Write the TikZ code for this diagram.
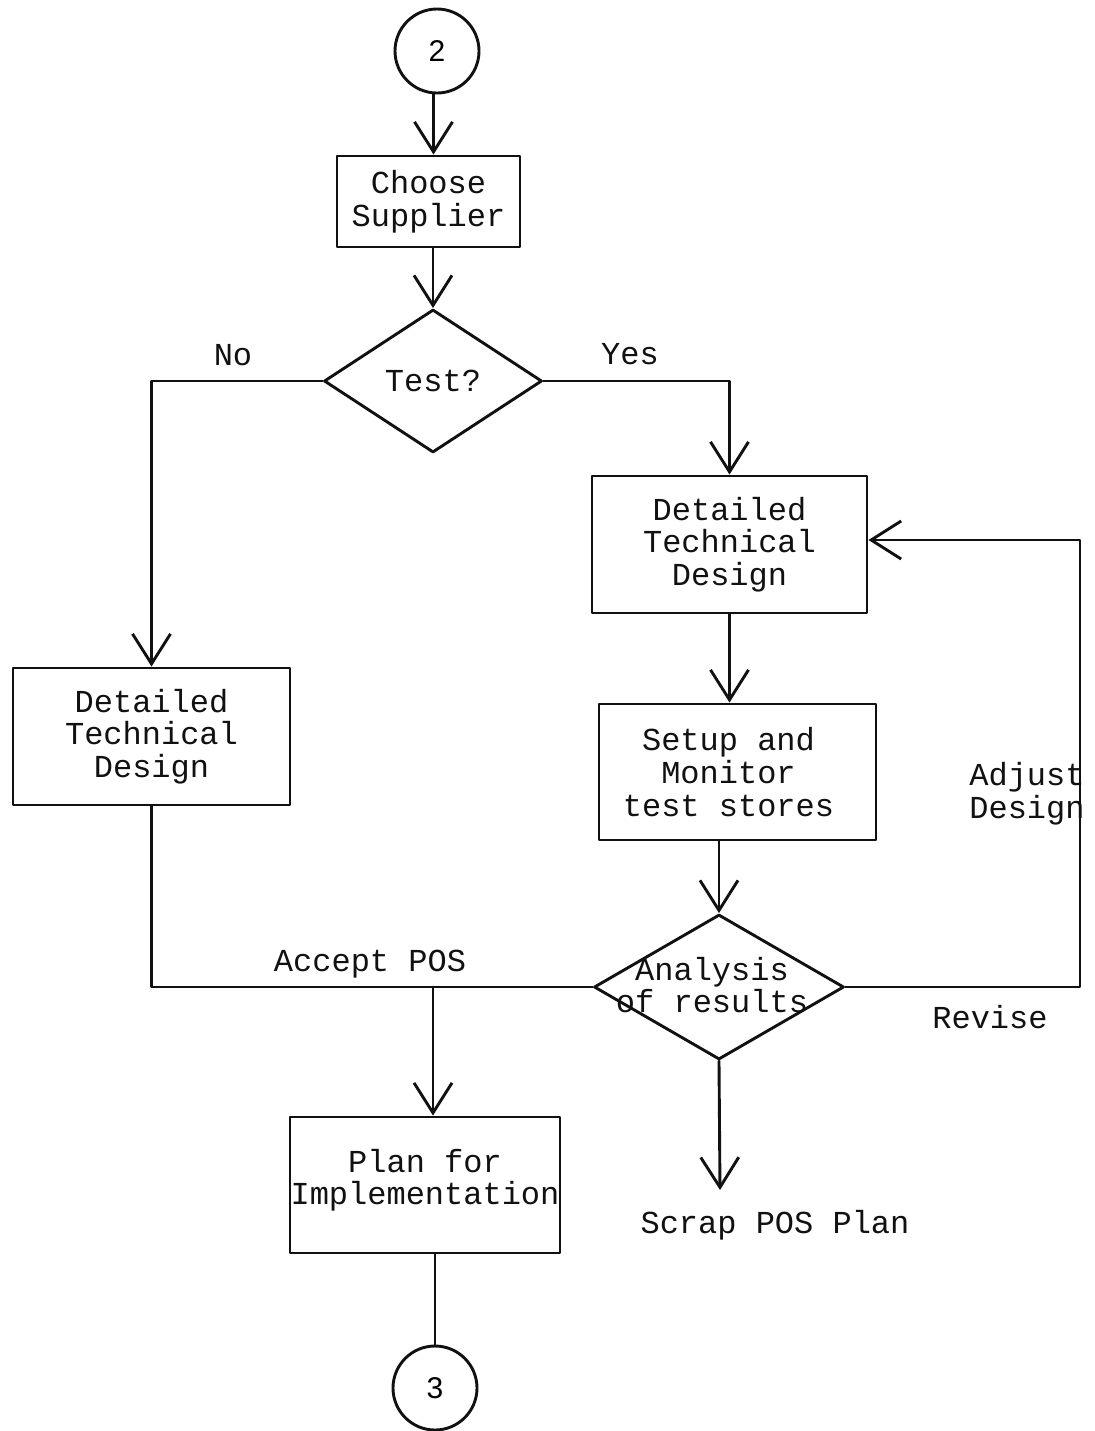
\documentclass[tikz,border=0pt]{standalone}
\usepackage{fontspec}
\usepackage{xcolor}
\usepackage{tikz}
\usetikzlibrary{arrows.meta,shapes.geometric}
\newfontfamily\typefont{Liberation Mono}
\newfontfamily\digitfont{Liberation Sans}
\definecolor{ink}{HTML}{111111}
\tikzset{
  base/.style={draw=ink, line width=1.45pt, line cap=round, line join=round},
  flow/.style={base, -{Straight Barb[length=15pt,width=19pt,line width=1.45pt]}},
  txt/.style={text=ink, font=\typefont\fontsize{16}{16.3}\selectfont, align=center, inner sep=0pt},
  procbox/.style={base, rectangle, inner sep=0pt, txt},
  decide/.style={base, diamond, inner sep=0pt},
  conn/.style={base, circle, inner sep=0pt, minimum size=42pt, font=\digitfont\fontsize{15}{15}\selectfont},
}

\begin{document}
\begin{tikzpicture}[x=0.5pt, y=-0.5pt]
  \useasboundingbox[fill=white] (0,0) rectangle (1094,1431);
  % connectors and steps
  \node[conn] (c2) at (437,51) {2};
  \node[procbox, minimum width=91.5pt, minimum height=45.5pt] (cs) at (428.5,201.5) {Choose\\Supplier};
  \node[decide, minimum width=109pt, minimum height=71.5pt,
        label={[txt]center:Test?}] (test) at (433,381) {};
  \node[procbox, minimum width=137.5pt, minimum height=68.5pt] (dr) at (729.5,544.5) {Detailed\\Technical\\Design};
  \node[procbox, minimum width=138.5pt, minimum height=68.5pt] (dl) at (151.5,736.5) {Detailed\\Technical\\Design};
  \node[procbox, minimum width=138.5pt, minimum height=68pt,
        label={[txt,xshift=-4.5pt]center:{Setup and\\Monitor\\test stores}}] (su) at (737.5,772) {};
  \node[decide, minimum width=125pt, minimum height=72.5pt] (ana) at (719,987) {};
  \node[txt] (anatxt) at (712,985) {Analysis\\of results};
  \node[procbox, minimum width=135pt, minimum height=68pt] (pl) at (425,1185) {Plan for\\Implementation\rule[-8pt]{0pt}{0pt}};
  \node[conn] (c3) at (435,1388) {3};

  % branch labels
  \node[txt] (no) at (233,355) {No};
  \node[txt] (yes) at (630,354) {Yes};
  \node[txt] (adj) at (1027,794) {Adjust\\Design};
  \node[txt] (acc) at (370,964) {Accept POS};
  \node[txt] (rev) at (990,1017) {Revise};
  \node[txt] (scrap) at (775,1225) {Scrap POS Plan};

  \coordinate (rv) at (1080,540);
  \coordinate (jn) at (433,987);
  \coordinate (send) at (720,1190);

  \draw[flow] (c2.south -| cs.north) ++(5,0) -- ([xshift=2.5pt]cs.north);
  \draw[flow] (cs.south -| test.north) -- (test.north);
  \draw[flow] (test.west) -| (dl.north);
  \draw[flow] (test.east) -| (dr.north);
  \draw[flow] (dr.south) -- (dr.south |- su.north);
  \draw[flow] (ana.north |- su.south) -- (ana.north);
  \draw[flow] (ana.east) -| (rv) -- (rv -| dr.east);
  \draw[base] (dl.south) |- (ana.west);
  \draw[flow] (jn) -- (jn |- pl.north);
  \draw[base] (c3.north |- pl.south) -- (c3.north);
  \draw[flow] (ana.south) -- (send);
\end{tikzpicture}
\end{document}
